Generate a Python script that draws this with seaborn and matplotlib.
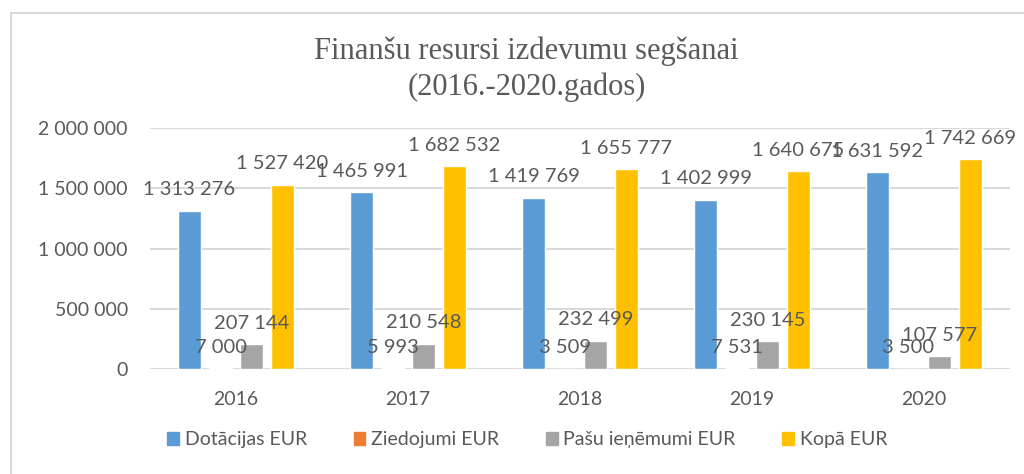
import pandas as pd
import seaborn as sns
import matplotlib.pyplot as plt
from matplotlib.patches import Rectangle

# data
years = ["2016", "2017", "2018", "2019", "2020"]
dotacijas = [1313276, 1465991, 1419769, 1402999, 1631592]
ziedojumi = [7000, 5993, 3509, 7531, 3500]
pasu = [207144, 210548, 232499, 230145, 107577]
kopa = [1527420, 1682532, 1655777, 1640675, 1742669]

series = ["Dotācijas EUR", "Ziedojumi EUR", "Pašu ieņēmumi EUR", "Kopā EUR"]
colors = ["#5B9BD5", "#ED7D31", "#A5A5A5", "#FFC000"]

rows = []
for name, vals in zip(series, [dotacijas, ziedojumi, pasu, kopa]):
    for y, v in zip(years, vals):
        rows.append({"Gads": y, "Sērija": name, "EUR": v})
df = pd.DataFrame(rows)

sns.set_style("white")
plt.rcParams["font.family"] = ["Lato", "DejaVu Sans"]
txt = "#595959"

fig = plt.figure(figsize=(10.24, 4.74), dpi=100)
ax = fig.add_axes([150 / 1024, 1 - 369 / 474, 860 / 1024, 241 / 474])

sns.barplot(data=df, x="Gads", y="EUR", hue="Sērija", hue_order=series,
            palette=colors, width=0.72, gap=0.23, ax=ax, legend=False,
            saturation=1, zorder=3)


def fmt(v):
    return f"{v:,}".replace(",", " ")


for cont, vals in zip(ax.containers, [dotacijas, ziedojumi, pasu, kopa]):
    ax.bar_label(cont, labels=[fmt(v) for v in vals], padding=9,
                 fontsize=14.5, color=txt, zorder=5)

ax.set_ylim(0, 2000000)
ax.set_yticks([0, 500000, 1000000, 1500000, 2000000])
ax.set_yticklabels([fmt(v) for v in [0, 500000, 1000000, 1500000, 2000000]])
ax.set_xlim(-0.5, 4.5)
ax.yaxis.grid(True, color="#d9d9d9", linewidth=1.5, zorder=0)
ax.set_axisbelow(True)
for s in ax.spines.values():
    s.set_visible(False)
ax.tick_params(axis="both", length=0, labelsize=14, colors=txt)
ax.tick_params(axis="y", pad=16)
ax.tick_params(axis="x", pad=16)
ax.set_xlabel("")
ax.set_ylabel("")

fig.text(0.514, 1 - 51 / 474, "Finanšu resursi izdevumu segšanai", ha="center", va="center",
         fontsize=22, color=txt, family="Liberation Serif")
fig.text(0.514, 1 - 87 / 474, "(2016.-2020.gados)", ha="center", va="center",
         fontsize=22, color=txt, family="Liberation Serif")

handles = [Rectangle((0, 0), 1, 1, color=c) for c in colors]
fig.legend(handles, series, loc="center", bbox_to_anchor=(0.515, 1 - 440 / 474),
           ncol=4, frameon=False, fontsize=14, handlelength=0.6, handleheight=0.6,
           handletextpad=0.3, columnspacing=2.4, labelcolor=txt)

fig.patches.append(Rectangle((11 / 1024, -0.1), 1.1, (474 - 13) / 474 + 0.1,
                             transform=fig.transFigure, fill=False,
                             edgecolor="#d9d9d9", linewidth=1.5))

fig.savefig("out.png", dpi=100)
